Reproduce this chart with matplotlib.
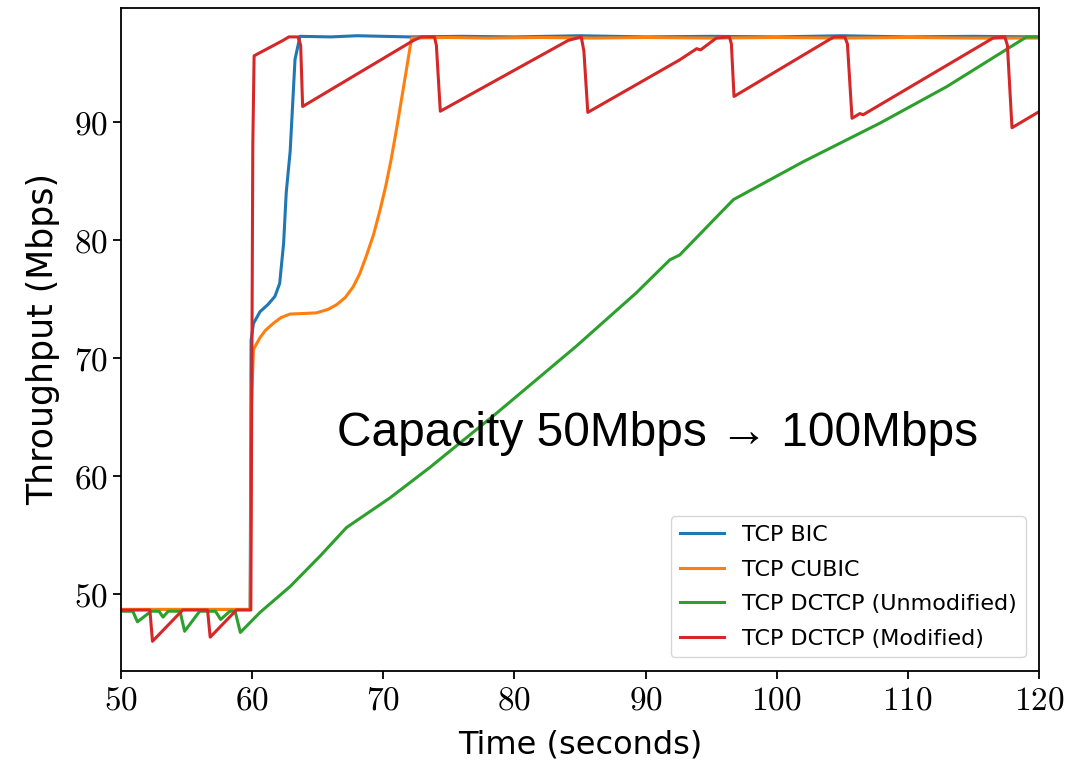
import matplotlib
matplotlib.use("Agg")
import matplotlib.pyplot as plt
from matplotlib.ticker import FuncFormatter, MultipleLocator

plt.rcParams["mathtext.fontset"] = "cm"
plt.rcParams["font.family"] = "DejaVu Sans"

# ── Data (time in s, throughput in Mbps) ─────────────────────────────────
bic_t = [50, 53, 56, 59.85, 59.92, 60.1, 60.6, 61.2, 61.74, 62.1, 62.4, 62.6,
         62.9, 63.27, 63.65, 66, 68, 72, 76, 80, 85, 90, 95, 100, 105, 110, 115, 120]
bic_y = [48.65, 48.65, 48.65, 48.65, 71.5, 72.9, 73.9, 74.5, 75.2, 76.3, 79.7, 84.0,
         87.5, 95.3, 97.25, 97.2, 97.3, 97.2, 97.25, 97.2, 97.3, 97.2, 97.25, 97.2,
         97.3, 97.2, 97.25, 97.2]

cubic_t = [50, 53, 56, 59.85, 59.95, 60.1, 60.6, 61.0, 61.6, 62.2, 62.9, 64.0, 64.9,
           65.8, 66.45, 67.1, 67.7, 68.2, 68.7, 69.25, 69.75, 70.2, 70.6, 71.0, 71.6,
           72.16, 75, 78, 82, 86, 90, 95, 100, 105, 110, 115, 120]
cubic_y = [48.65, 48.65, 48.65, 48.65, 66.0, 70.7, 71.7, 72.3, 72.9, 73.4, 73.7, 73.75,
           73.8, 74.1, 74.5, 75.1, 76.0, 77.1, 78.6, 80.4, 82.5, 84.6, 86.8, 89.3, 93.3,
           97.1, 97.15, 97.1, 97.15, 97.1, 97.15, 97.1, 97.15, 97.1, 97.15, 97.1, 97.1]

green_t = [50, 50.9, 51.25, 52.3, 52.9, 53.2, 53.6, 54.5, 54.85, 56.0, 57.2, 57.6,
           58.3, 58.7, 59.1, 60.6, 62.9, 65.2, 67.2, 70.5, 73.56, 78.65, 84.75, 89.3,
           91.86, 92.6, 96.7, 102.0, 107.9, 113.0, 119.06, 120]
green_y = [48.5, 48.5, 47.6, 48.5, 48.5, 48.0, 48.5, 48.5, 46.8, 48.5, 48.5, 47.8,
           48.5, 48.5, 46.7, 48.4, 50.6, 53.2, 55.6, 58.1, 60.7, 65.3, 71.0, 75.5,
           78.3, 78.7, 83.4, 86.6, 89.9, 93.0, 97.2, 97.2]

red_t = [50, 52.2, 52.4, 54.7, 56.6, 56.8, 58.8, 59.9, 60.05, 60.15, 62.35, 62.8,
         63.5, 63.7, 63.85, 72.3, 72.9, 73.9, 74.05, 74.35, 84.1, 85.1, 85.3,
         85.6, 92.6, 93.9, 94.2, 95.4, 96.4, 96.55, 96.75, 104.06, 104.4, 105.2,
         105.4, 105.75, 106.35, 106.6, 116.5, 117.4, 117.6, 117.95, 120]
red_y = [48.6, 48.6, 45.95, 48.6, 48.6, 46.3, 48.6, 48.6, 88.0, 95.6, 96.9, 97.2,
         97.2, 96.5, 91.3, 96.9, 97.2, 97.2, 96.5, 90.9, 96.9, 97.2, 96.0,
         90.8, 95.25, 96.2, 96.1, 97.1, 97.2, 96.6, 92.15, 97.0, 97.2, 97.2,
         96.6, 90.3, 90.7, 90.6, 97.1, 97.2, 96.5, 89.5, 90.85]

series = [
    ("TCP BIC", bic_t, bic_y, "#1f77b4"),
    ("TCP CUBIC", cubic_t, cubic_y, "#ff7f0e"),
    ("TCP DCTCP (Unmodified)", green_t, green_y, "#2ca02c"),
    ("TCP DCTCP (Modified)", red_t, red_y, "#d62728"),
]

fig = plt.figure(figsize=(10.71, 7.71), dpi=100)
ax = fig.add_axes([0.113, 0.130, 0.857, 0.8596])

for label, t, y, c in series:
    ax.plot(t, y, color=c, lw=2.2, label=label)

ax.set_xlim(50, 120)
ax.set_ylim(43.45, 99.65)
ax.xaxis.set_major_locator(MultipleLocator(10))
ax.yaxis.set_major_locator(MultipleLocator(10))
fmt = FuncFormatter(lambda v, p: r"$%d$" % v)
ax.xaxis.set_major_formatter(fmt)
ax.yaxis.set_major_formatter(fmt)
ax.tick_params(labelsize=24, length=5.8, width=1.3)
for s in ax.spines.values():
    s.set_linewidth(1.3)

ax.set_xlabel("Time (seconds)", fontsize=23, labelpad=9)
ax.set_ylabel("Throughput (Mbps)", fontsize=25, labelpad=10)

ax.text(90.9, 63.6, "Capacity 50Mbps \u2192 100Mbps", fontsize=34.5,
        family=["Liberation Sans", "DejaVu Sans"], ha="center", va="center")

ax.legend(loc="lower right", fontsize=16, borderaxespad=0.6, labelspacing=0.65)

fig.savefig("out.png", dpi=100)
